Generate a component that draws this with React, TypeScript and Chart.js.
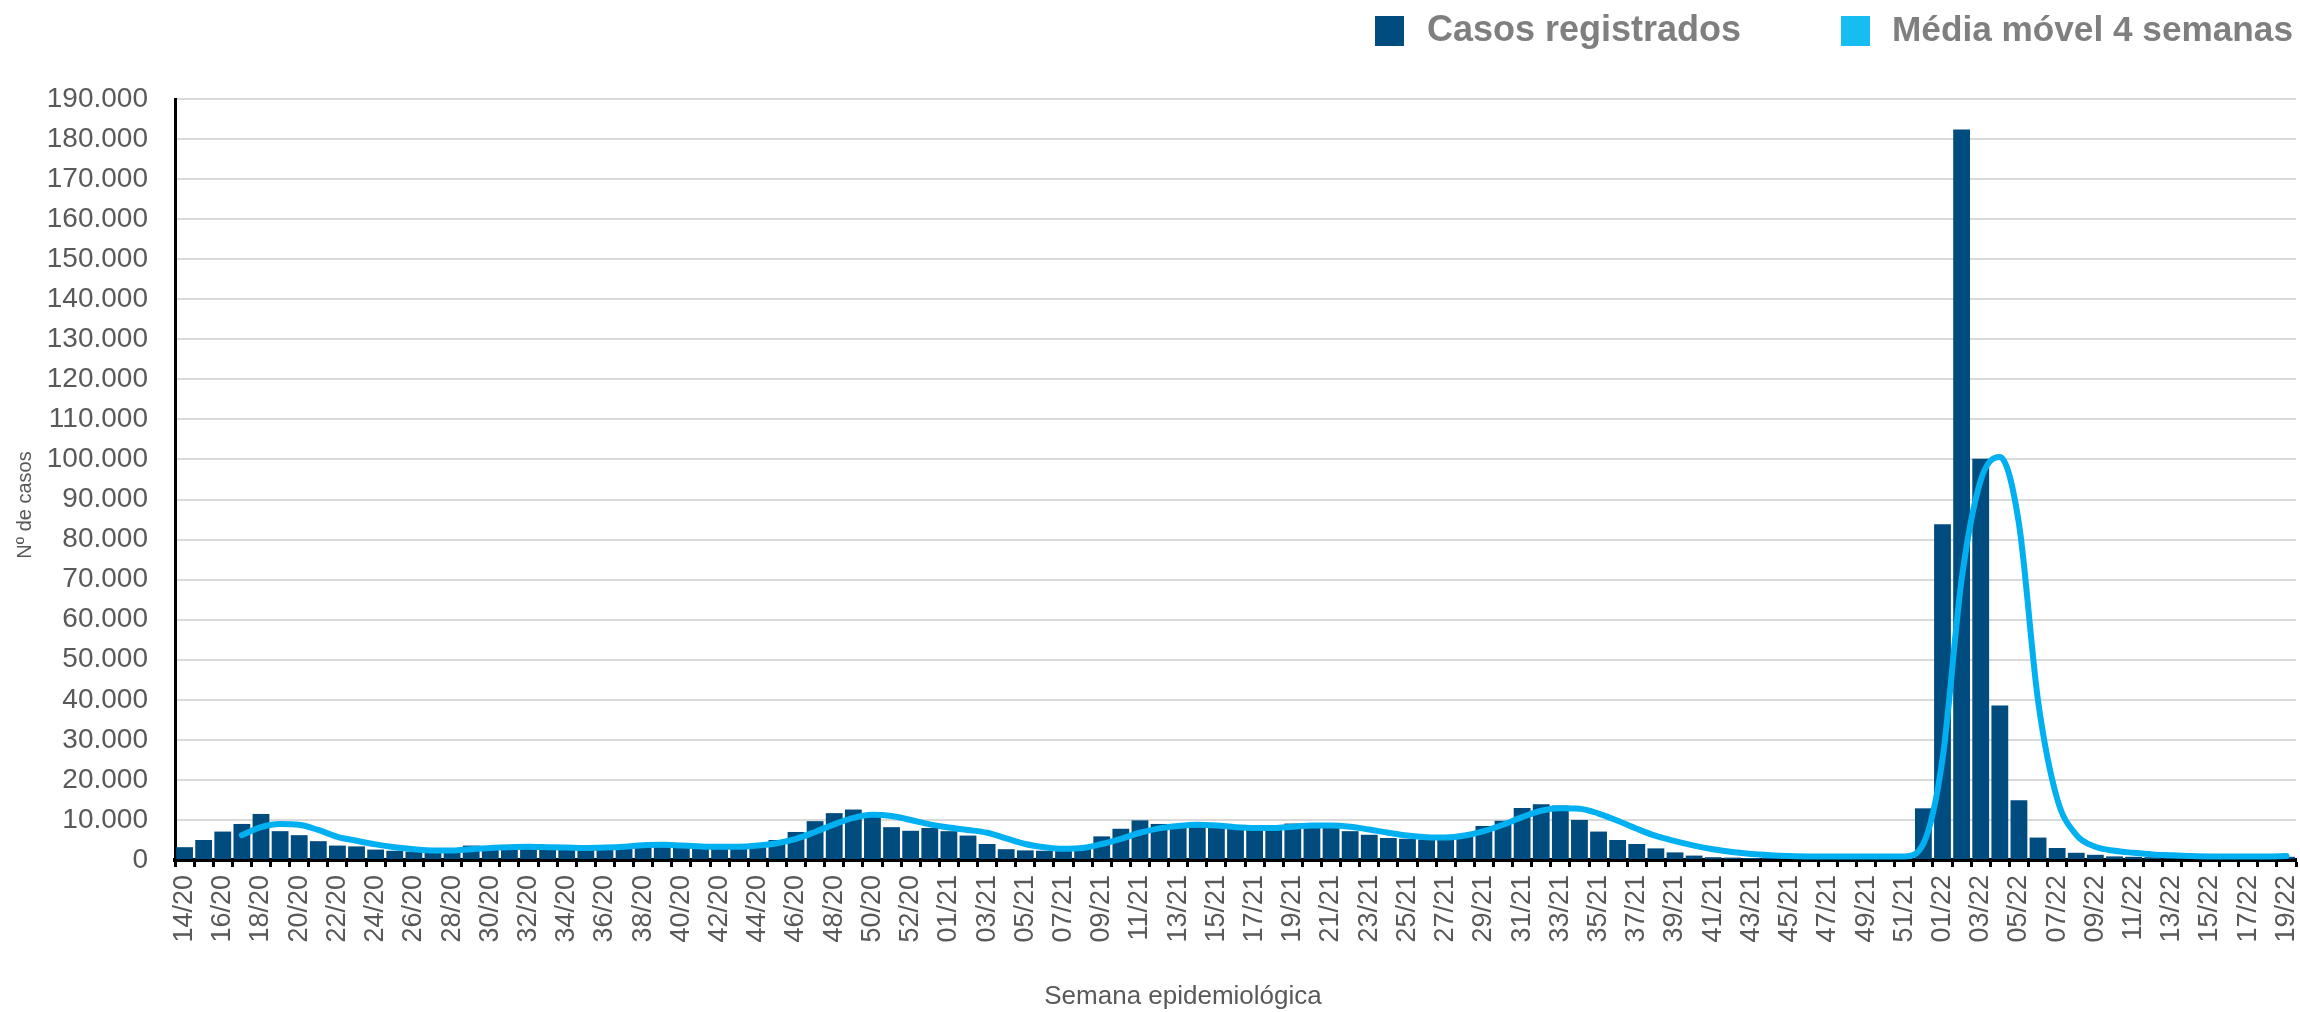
import React, { useEffect, useRef } from 'react';
import { Chart, registerables } from 'chart.js';

Chart.register(...registerables);

const weekLabels: string[] = [
  '14/20', '15/20', '16/20', '17/20', '18/20', '19/20', '20/20', '21/20', '22/20', '23/20',
  '24/20', '25/20', '26/20', '27/20', '28/20', '29/20', '30/20', '31/20', '32/20', '33/20',
  '34/20', '35/20', '36/20', '37/20', '38/20', '39/20', '40/20', '41/20', '42/20', '43/20',
  '44/20', '45/20', '46/20', '47/20', '48/20', '49/20', '50/20', '51/20', '52/20', '53/20',
  '01/21', '02/21', '03/21', '04/21', '05/21', '06/21', '07/21', '08/21', '09/21', '10/21',
  '11/21', '12/21', '13/21', '14/21', '15/21', '16/21', '17/21', '18/21', '19/21', '20/21',
  '21/21', '22/21', '23/21', '24/21', '25/21', '26/21', '27/21', '28/21', '29/21', '30/21',
  '31/21', '32/21', '33/21', '34/21', '35/21', '36/21', '37/21', '38/21', '39/21', '40/21',
  '41/21', '42/21', '43/21', '44/21', '45/21', '46/21', '47/21', '48/21', '49/21', '50/21',
  '51/21', '52/21',
  '01/22', '02/22', '03/22', '04/22', '05/22', '06/22', '07/22', '08/22', '09/22', '10/22',
  '11/22', '12/22', '13/22', '14/22', '15/22', '16/22', '17/22', '18/22', '19/22',
];

const casosRegistrados: number[] = [
  3200, 5000, 7100, 9000, 11500, 7200, 6200, 4700, 3600, 3400,
  2600, 2300, 2100, 2000, 2400, 3600, 3300, 3400, 3400, 3000,
  3000, 2900, 3100, 3300, 3500, 3200, 3000, 2800, 2800, 3000,
  3400, 5000, 7000, 9700, 11700, 12600, 11400, 8200, 7300, 8000,
  7200, 6100, 4000, 2700, 2400, 2300, 2300, 2800, 5900, 7800,
  9900, 9000, 8300, 8300, 8000, 7800, 7900, 8000, 9100, 8800,
  8600, 7200, 6300, 5500, 5300, 5100, 5300, 6000, 8500, 9800,
  13000, 13900, 13600, 10000, 7100, 5000, 4000, 2900, 1900, 1100,
  700, 600, 500, 500, 500, 500, 500, 600, 600, 500,
  600, 12900,
  83800, 182400, 100200, 38600, 14900, 5600, 3000, 1800, 1300, 900,
  800, 700, 600, 600, 500, 500, 600, 700, 800,
];

const mediaMovel4: (number | null)[] = [
  null, null, null, 6200, 8200, 9000, 8800, 7500, 5800, 4800,
  3900, 3200, 2700, 2400, 2400, 2700, 3000, 3200, 3300, 3200,
  3100, 3000, 3100, 3300, 3700, 3800, 3600, 3400, 3300, 3300,
  3600, 4200, 5300, 7000, 8900, 10500, 11300, 11000, 10000, 8900,
  8100, 7500, 6800, 5400, 4000, 3200, 2800, 3000, 4000, 5300,
  6800, 7900, 8500, 8800, 8600, 8200, 8000, 8000, 8300, 8600,
  8600, 8300, 7600, 6800, 6100, 5700, 5600, 6100, 7200, 8800,
  10700, 12300, 12900, 12800, 11600, 9800, 7800, 6000, 4700, 3600,
  2700, 2000, 1500, 1200, 1000, 900, 900, 900, 900, 900,
  900, 4100,
  25200, 70000, 94800, 100600, 84000, 39800, 15300, 6300, 3300, 2300,
  1800, 1400, 1200, 1000, 900, 900, 900, 900, 1000,
];

const seriesNames: string[] = ['Casos registrados', 'Média móvel 4 semanas'];
const yAxisTitle = 'Nº de casos';
const xAxisTitle = 'Semana epidemiológica';
const yMin = 0;
const yMax = 190000;
const yStep = 10000;

const BAR_COLOR = '#004C7F';
const LINE_COLOR = '#00B0F0';
const LEGEND_LINE_COLOR = '#16BDF0';
const TEXT_COLOR = '#595959';
const LEGEND_TEXT = '#7F7F7F';
const FONT = '"Liberation Sans", Arial, sans-serif';

const fmtThousands = (v: number) =>
  String(Math.round(v)).replace(/\B(?=(\d{3})+(?!\d))/g, '.');

const overlayPlugin = {
  id: 'overlayTexts',
  afterDraw(chart: any) {
    const ctx: CanvasRenderingContext2D = chart.ctx;
    ctx.save();
    // Legend (top right)
    ctx.font = `bold 36px ${FONT}`;
    ctx.textBaseline = 'middle';
    const boxY = 16;
    const textY = 31;
    ctx.fillStyle = BAR_COLOR;
    ctx.fillRect(1375, boxY, 29, 30);
    ctx.fillStyle = LEGEND_LINE_COLOR;
    ctx.fillRect(1841, boxY, 29, 30);
    ctx.fillStyle = LEGEND_TEXT;
    ctx.textAlign = 'left';
    ctx.fillText(seriesNames[0], 1427, textY);
    const w2 = ctx.measureText(seriesNames[1]).width;
    const avail = 2294 - 1892;
    if (w2 > avail) {
      ctx.font = `bold ${Math.floor(36 * avail / w2 * 10) / 10}px ${FONT}`;
    }
    ctx.fillText(seriesNames[1], 1892, textY);

    // Axis titles
    ctx.fillStyle = TEXT_COLOR;
    ctx.textAlign = 'center';
    ctx.textBaseline = 'middle';
    ctx.font = `26px ${FONT}`;
    ctx.fillText(xAxisTitle, 1183, 997);
    ctx.font = `20px ${FONT}`;
    ctx.translate(25, 505);
    ctx.rotate(-Math.PI / 2);
    ctx.fillText(yAxisTitle, 0, 0);
    ctx.restore();
  },
};

export default function App() {
  const canvasRef = useRef<HTMLCanvasElement>(null);

  useEffect(() => {
    if (!canvasRef.current) return;
    const chart = new Chart(canvasRef.current, {
      type: 'bar',
      data: {
        labels: weekLabels,
        datasets: [
          {
            type: 'line',
            label: seriesNames[1],
            data: mediaMovel4,
            borderColor: LINE_COLOR,
            backgroundColor: LINE_COLOR,
            borderWidth: 6,
            pointRadius: 0,
            pointHoverRadius: 0,
            cubicInterpolationMode: 'monotone',
            borderCapStyle: 'round',
            borderJoinStyle: 'round',
            spanGaps: false,
            order: 0,
          } as any,
          {
            type: 'bar',
            label: seriesNames[0],
            data: casosRegistrados,
            backgroundColor: BAR_COLOR,
            barPercentage: 0.88,
            categoryPercentage: 1,
            order: 1,
          } as any,
        ],
      },
      options: {
        animation: false,
        responsive: true,
        maintainAspectRatio: false,
        layout: { padding: { left: 0, right: 4, top: 99, bottom: 0 } },
        plugins: {
          legend: { display: false },
          tooltip: { enabled: false },
          title: { display: false },
        },
        scales: {
          x: {
            grid: {
              offset: true,
              drawOnChartArea: false,
              drawTicks: true,
              tickLength: 7,
              tickWidth: 3,
              tickColor: '#000000',
            },
            border: { display: true, color: '#000000', width: 4 },
            ticks: {
              autoSkip: false,
              minRotation: 90,
              maxRotation: 90,
              padding: 8,
              color: TEXT_COLOR,
              font: { family: FONT, size: 27 },
              callback: (_v: any, i: number) => (i % 2 === 0 ? weekLabels[i] : ''),
            },
            afterFit: (s: any) => {
              s.height = 152;
              s.paddingLeft = 0;
              s.paddingRight = 0;
            },
          },
          y: {
            min: yMin,
            max: yMax,
            ticks: {
              stepSize: yStep,
              padding: 27,
              color: TEXT_COLOR,
              font: { family: FONT, size: 28 },
              callback: (v: any) => fmtThousands(Number(v)),
            },
            grid: { color: '#D9D9D9', lineWidth: 2, drawTicks: false },
            border: { display: true, color: '#000000', width: 3 },
            afterFit: (s: any) => {
              s.width = 175;
              s.paddingTop = 0;
              s.paddingBottom = 0;
            },
          },
        },
      } as any,
      plugins: [overlayPlugin],
    });
    return () => chart.destroy();
  }, []);

  return (
    <div
      style={{
        position: 'fixed',
        left: 0,
        top: 0,
        width: 2300,
        height: 1012,
        background: '#ffffff',
      }}
    >
      <canvas ref={canvasRef} />
    </div>
  );
}
